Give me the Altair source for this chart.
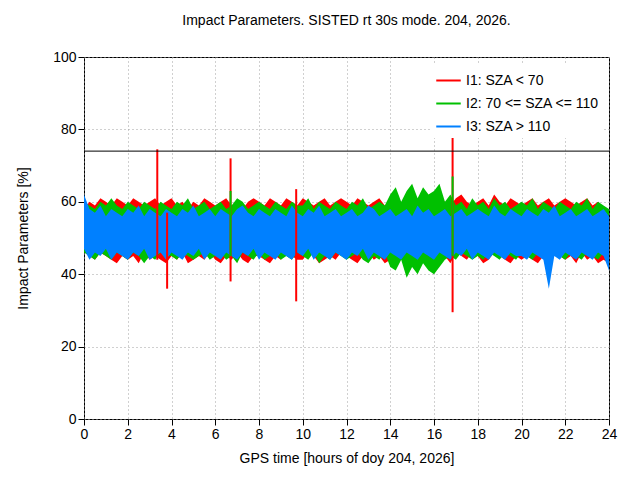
import pandas as pd
import altair as alt

names = ["I1: SZA < 70", "I2: 70 <= SZA <= 110", "I3: SZA > 110"]
colors = ["#ff0000", "#00c000", "#0080ff"]

# time grid: every quarter hour
hours = [i * 0.25 for i in range(97)]

red_hi = [58,60,59,61,60,59,61,60, 59,61,60,59,60,61,59,60, 61,59,60,58,60,59,61,60,
          59,60,61,59,60,58,60,61, 60,59,61,60,59,61,60,59, 61,60,59,60,61,59,60,61,
          60,59,61,60,59,60,61,59, 60,61,59,60,58,60,59,60, 59,61,60,59,61,62,60,59,
          60,61,59,62,60,59,61,60, 59,60,61,59,60,61,59,60, 61,60,59,60,61,59,60,58, 56]
red_lo = [47,45,44,46,45,44,43,45, 44,45,43,46,44,45,44,43, 45,44,46,43,44,45,44,46,
          44,43,45,44,46,44,43,45, 45,44,43,45,44,46,45,44, 44,46,45,43,44,45,44,46,
          45,44,43,45,46,44,45,43, 44,45,46,44,43,45,44,45, 46,44,45,43,46,45,44,46,
          45,43,44,46,45,44,43,45, 44,45,44,43,45,44,46,45, 44,45,43,46,44,45,43,44, 43]
green_hi = [60,59,58,60,59,61,59,58, 60,59,58,60,59,58,60,59, 58,60,59,61,58,59,60,58,
            59,60,58,59,61,60,58,59, 60,59,58,60,59,58,60,59, 59,61,58,60,59,58,60,59,
            58,60,59,61,58,59,60,59, 62,64,60,63,65,61,64,62, 63,65,60,62,59,60,58,61,
            59,60,58,61,59,60,58,59, 60,59,61,58,60,59,58,60, 59,58,60,59,61,58,60,59, 58]
green_lo = [46,45,44,46,45,44,46,45, 44,46,45,43,45,44,46,45, 45,44,46,45,44,45,46,44,
            45,46,44,45,43,46,45,44, 46,44,45,46,44,45,44,46, 45,44,46,43,45,44,46,45,
            44,45,46,44,43,45,44,46, 42,41,44,39,42,40,43,41, 40,42,44,45,44,46,45,44,
            45,44,46,45,44,46,45,44, 46,45,44,46,45,44,46,45, 44,46,45,44,46,45,44,46, 45]
blue_hi = [62,58,57,59,56,58,57,56, 58,57,59,56,58,57,56,58, 57,56,58,57,59,56,57,58,
           56,58,57,56,58,59,57,56, 58,57,56,58,57,56,59,57, 56,58,57,59,56,57,58,56,
           57,58,56,57,59,58,56,57, 58,56,57,58,56,59,57,58, 56,57,58,56,57,58,56,57,
           58,57,56,59,57,56,58,57, 56,58,57,56,58,57,59,56, 57,58,56,57,58,56,57,58, 56]
blue_lo = [47,44,46,45,47,44,46,45, 44,46,45,47,44,45,46,44, 46,45,44,46,45,47,44,46,
           45,44,46,45,44,46,45,47, 44,46,45,44,46,45,44,46, 45,47,44,46,45,44,46,45,
           44,46,45,47,44,46,45,44, 46,45,44,46,45,44,46,45, 44,46,45,44,46,45,47,44,
           46,45,44,46,45,44,46,45, 45,44,46,45,44,36,45,44, 46,45,44,46,45,44,46,45, 41]

# isolated spikes
spike_t = [3.35, 3.8, 6.7, 9.7, 16.85, 6.7, 16.85]
spike_lo = [44, 36, 38, 32.5, 29.5, 45, 45]
spike_hi = [74.5, 57, 72, 63.5, 83, 63, 67]
spike_s = [names[0]] * 5 + [names[1]] * 2

rows = []
for name, lo, hi in zip(names, [red_lo, green_lo, blue_lo], [red_hi, green_hi, blue_hi]):
    for t, a, b in zip(hours, lo, hi):
        rows.append({"t": t, "lo": a, "hi": b, "series": name})
df = pd.DataFrame(rows)
spikes = pd.DataFrame({"t": spike_t, "lo": spike_lo, "hi": spike_hi, "series": spike_s})

color = alt.Color("series:N", title=None,
                  scale=alt.Scale(domain=names, range=colors),
                  legend=alt.Legend(orient="top-right", symbolType="stroke",
                                    symbolStrokeWidth=2, symbolSize=600,
                                    labelFontSize=14, labelFont="Liberation Sans",
                                    fillColor="white", padding=4, offset=6))
x = alt.X("t:Q", title="GPS time [hours of doy 204, 2026]",
          scale=alt.Scale(domain=[0, 24], nice=False),
          axis=alt.Axis(values=list(range(0, 25, 2)), format="d"))
y = alt.Y("lo:Q", title="Impact Parameters [%]",
          scale=alt.Scale(domain=[0, 100], nice=False),
          axis=alt.Axis(values=list(range(0, 101, 10)), format="d", labelOverlap=False))

layers = []
for name in names:
    layers.append(alt.Chart(df).transform_filter(alt.datum.series == name)
                  .mark_area(opacity=1, interpolate="linear")
                  .encode(x=x, y=y, y2="hi:Q", color=color))
spike_layer = alt.Chart(spikes).mark_rule(strokeWidth=2).encode(x=x, y=y, y2="hi:Q", color=color)
ref = alt.Chart(pd.DataFrame({"v": [74]})).mark_rule(color="black", strokeWidth=1).encode(y="v:Q")

chart = alt.layer(*layers, spike_layer, ref).properties(
    width=525, height=362,
    title=alt.TitleParams("Impact Parameters. SISTED rt 30s mode. 204, 2026.",
                          fontSize=14, fontWeight="normal", font="Liberation Sans", offset=22),
    autosize=alt.AutoSizeParams(type="none"),
    padding={"left": 76, "top": 49, "right": 23, "bottom": 60},
).configure_view(stroke="black", strokeWidth=1).configure_axis(
    grid=True, gridColor="#a0a0a0", gridDash=[1, 3], domain=False,
    tickColor="black", tickSize=6, labelFont="Liberation Sans",
    labelFontSize=14, titleFont="Liberation Sans", titleFontSize=14,
    titleFontWeight="normal", labelColor="black", titleColor="black",
    labelOverlap=False, labelFlush=False,
).configure_axisY(titlePadding=22).configure_axisX(titlePadding=10)

chart.save("out.html", embed_options={"renderer": "svg", "actions": False})
